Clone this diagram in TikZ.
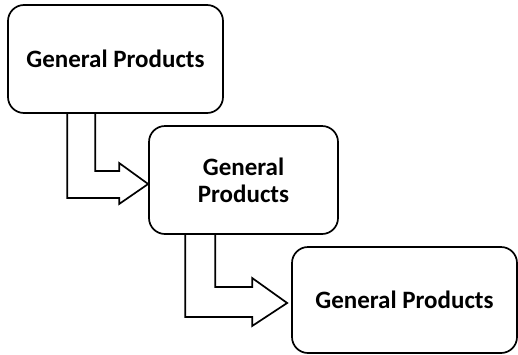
\documentclass[tikz,border=0pt]{standalone}
\usepackage{fontspec}
\setmainfont{Carlito}
\usetikzlibrary{calc}

\begin{document}
\begin{tikzpicture}[x=1pt,y=-1pt,
		gpbox/.style={draw, line width=1.7pt, rounded corners=16pt, align=center, inner sep=0pt,
			font=\fontsize{25}{27}\selectfont\bfseries},
		blockarrow/.style={draw, line width=1.7pt, line join=miter}]
		      		\useasboundingbox (0,0) rectangle (518,354);

		      		\node[gpbox, minimum width=215pt, minimum height=108pt] (gp1) at (115.5,59) {General Products};
		      		\node[gpbox, minimum width=189pt, minimum height=108pt] (gp2) at (243.5,180) {General\\Products};
		      		\node[gpbox, minimum width=225pt, minimum height=106pt] (gp3) at (404.5,300) {General Products};

		      		\begin{scope}[shift={($(gp2.west)+(0,4)$)}]
		      			\draw[blockarrow] (-81,-71) -- (-81,14) -- (-29,14) -- (-29,20) -- (0,0) -- (-29,-21) -- (-29,-13) -- (-53,-13) -- (-53,-71);
		      		\end{scope}
		      		\begin{scope}[shift={($(gp3.west)+(-4,3)$)}]
		      			\draw[blockarrow] (-102,-69) -- (-102,14) -- (-35,14) -- (-35,23) -- (0,0) -- (-35,-25) -- (-35,-16) -- (-72,-16) -- (-72,-69);
		      		\end{scope}
		      	\end{tikzpicture}
\end{document}
